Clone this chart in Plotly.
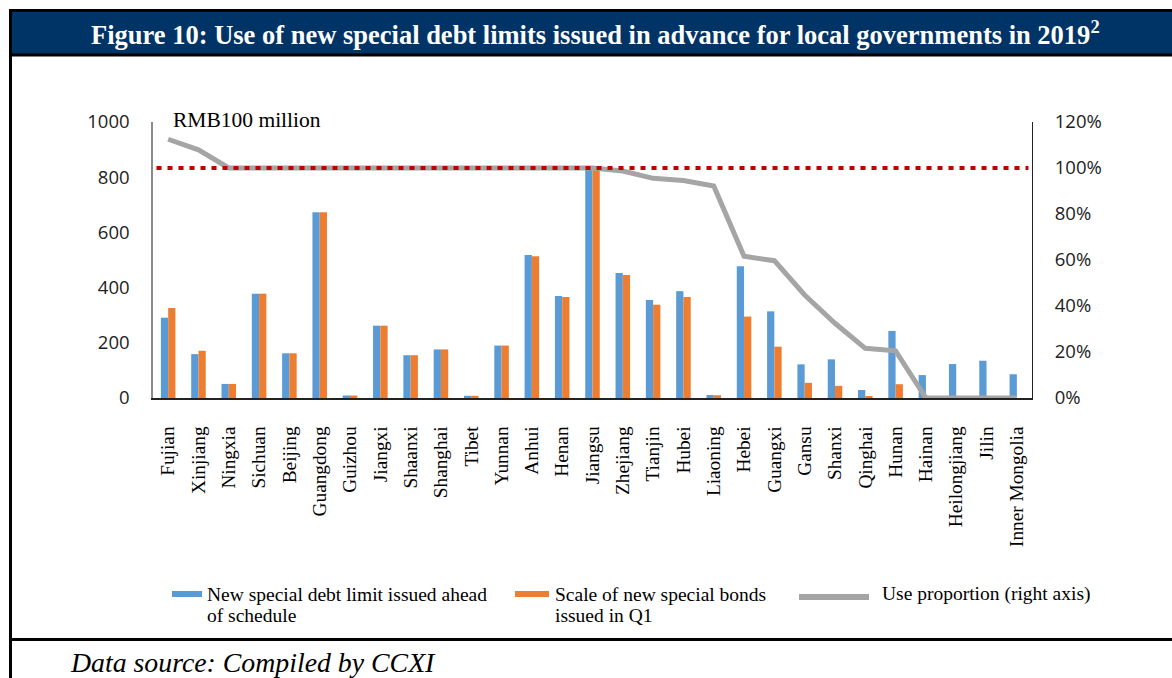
import plotly.graph_objects as go

# ---------------- data ----------------
provinces = ["Fujian", "Xinjiang", "Ningxia", "Sichuan", "Beijing", "Guangdong", "Guizhou",
             "Jiangxi", "Shaanxi", "Shanghai", "Tibet", "Yunnan", "Anhui", "Henan", "Jiangsu",
             "Zhejiang", "Tianjin", "Hubei", "Liaoning", "Hebei", "Guangxi", "Gansu", "Shanxi",
             "Qinghai", "Hunan", "Hainan", "Heilongjiang", "Jilin", "Inner Mongolia"]
limit_issued = [291, 159, 51, 378, 162, 673, 9, 262, 155, 176, 8, 190, 518, 370, 830,
                453, 355, 387, 11, 477, 314, 122, 140, 29, 243, 83, 123, 135, 86]
bonds_q1 = [326, 171, 51, 378, 162, 673, 9, 262, 155, 176, 8, 190, 514, 366, 830,
            446, 338, 366, 10, 295, 186, 55, 44, 6, 50, 0, 0, 0, 0]
use_pct = [112.5, 107.9, 100, 100, 100, 100, 100, 100, 100, 100, 100, 100, 100, 100, 100,
           98.7, 95.5, 94.6, 92.2, 61.6, 59.7, 44.8, 32.5, 21.6, 20.5, 0, 0, 0, 0]
left_ticks = [0, 200, 400, 600, 800, 1000]
right_ticks = [0, 20, 40, 60, 80, 100, 120]
right_ticklabels = [f"{v}%" for v in right_ticks]
reference_pct = 100

title_text = "Figure 10: Use of new special debt limits issued in advance for local governments in 2019<sup>2</sup>"
legend_lines = [["New special debt limit issued ahead", "of schedule"],
                ["Scale of new special bonds", "issued in Q1"],
                ["Use proportion (right axis)"]]
unit_text = "RMB100 million"
source_text = "Data source: Compiled by CCXI"

# ---------------- style ----------------
W, H = 1172, 678
L, R, T, B = 153, 1032, 122, 398
SERIF = "Liberation Serif"
SANS = "Open Sans"
BLUE, ORANGE, GRAY, RED, NAVY = "#5B9BD5", "#ED7D31", "#A5A5A5", "#C00000", "#003366"


def px(x):
    return (x - L) / (R - L)


def py(y):
    return (B - y) / (B - T)


fig = go.Figure()
fig.add_trace(go.Bar(x=provinces, y=limit_issued, marker_color=BLUE, marker_line_width=0,
                     showlegend=False))
fig.add_trace(go.Bar(x=provinces, y=bonds_q1, marker_color=ORANGE, marker_line_width=0,
                     showlegend=False))
fig.add_trace(go.Scatter(x=provinces, y=use_pct, yaxis="y2", mode="lines",
                         line=dict(color=GRAY, width=5), showlegend=False))

shapes = []
# 100% reference line
shapes.append(dict(type="line", xref="paper", yref="y2", x0=0.004, x1=0.996,
                   y0=reference_pct, y1=reference_pct, layer="above",
                   line=dict(color=RED, width=4, dash="5px,6px")))
# title band
shapes.append(dict(type="rect", xref="paper", yref="paper", x0=px(10), x1=px(1175),
                   y0=py(55), y1=py(10), fillcolor=NAVY, line=dict(width=0), layer="below"))
# frame lines
frame = dict(color="black", width=3)
shapes.append(dict(type="line", xref="paper", yref="paper", x0=px(10), x1=px(1175),
                   y0=py(10.5), y1=py(10.5), line=frame))
shapes.append(dict(type="line", xref="paper", yref="paper", x0=px(10), x1=px(1175),
                   y0=py(55), y1=py(55), line=frame))
shapes.append(dict(type="line", xref="paper", yref="paper", x0=px(10), x1=px(1175),
                   y0=py(639.5), y1=py(639.5), line=frame))
shapes.append(dict(type="line", xref="paper", yref="paper", x0=px(10.5), x1=px(10.5),
                   y0=py(9), y1=py(680), line=frame))
# legend swatches
shapes.append(dict(type="rect", xref="paper", yref="paper", x0=px(172), x1=px(202),
                   y0=py(597), y1=py(591), fillcolor=BLUE, line=dict(width=0)))
shapes.append(dict(type="rect", xref="paper", yref="paper", x0=px(515), x1=px(549),
                   y0=py(597), y1=py(591), fillcolor=ORANGE, line=dict(width=0)))
shapes.append(dict(type="line", xref="paper", yref="paper", x0=px(799), x1=px(869),
                   y0=py(597), y1=py(597), line=dict(color=GRAY, width=6)))

annotations = [
    dict(text=f"<b>{title_text}</b>", xref="paper", yref="paper", x=px(595), y=py(33),
         xanchor="center", yanchor="middle", showarrow=False,
         font=dict(family=SERIF, size=26.5, color="white")),
    dict(text=unit_text, xref="paper", yref="paper", x=px(171), y=py(120),
         xanchor="left", yanchor="middle", showarrow=False,
         font=dict(family=SERIF, size=21.5, color="black")),
    dict(text=f"<i>{source_text}</i>", xref="paper", yref="paper", x=px(68), y=py(662),
         xanchor="left", yanchor="middle", showarrow=False,
         font=dict(family=SERIF, size=27.8, color="black")),
]
legend_x = [205, 553, 880]
for lx, lines in zip(legend_x, legend_lines):
    for i, line in enumerate(lines):
        annotations.append(dict(text=line, xref="paper", yref="paper", x=px(lx),
                                y=py(594 + 21 * i), xanchor="left", yanchor="middle",
                                showarrow=False,
                                font=dict(family=SERIF, size=19.5, color="black")))

fig.update_layout(
    width=W, height=H,
    margin=dict(l=L, r=W - R, t=T, b=H - B, pad=0),
    paper_bgcolor="white", plot_bgcolor="white",
    barmode="group", bargap=0.52, bargroupgap=0,
    showlegend=False,
    shapes=shapes, annotations=annotations,
    xaxis=dict(type="category", tickangle=-90, showgrid=False, ticks="",
               showline=True, linecolor="#222222", linewidth=1.5,
               tickfont=dict(family=SERIF, size=19.3, color="black"),
               ticklabelstandoff=19, fixedrange=True),
    yaxis=dict(range=[0, 1000], tickvals=left_ticks, showgrid=False, zeroline=False,
               showline=True, linecolor="#8C8C8C", linewidth=1.5, ticks="",
               tickfont=dict(family=SANS, size=18.5, color="#222222"),
               ticklabelstandoff=18),
    yaxis2=dict(range=[0, 120], tickvals=right_ticks, ticktext=right_ticklabels,
                overlaying="y", side="right", showgrid=False, zeroline=False,
                showline=True, linecolor="#222222", linewidth=1.2, ticks="",
                tickfont=dict(family=SANS, size=18.5, color="#222222"),
                ticklabelstandoff=18),
)

fig.write_html("out.html")
